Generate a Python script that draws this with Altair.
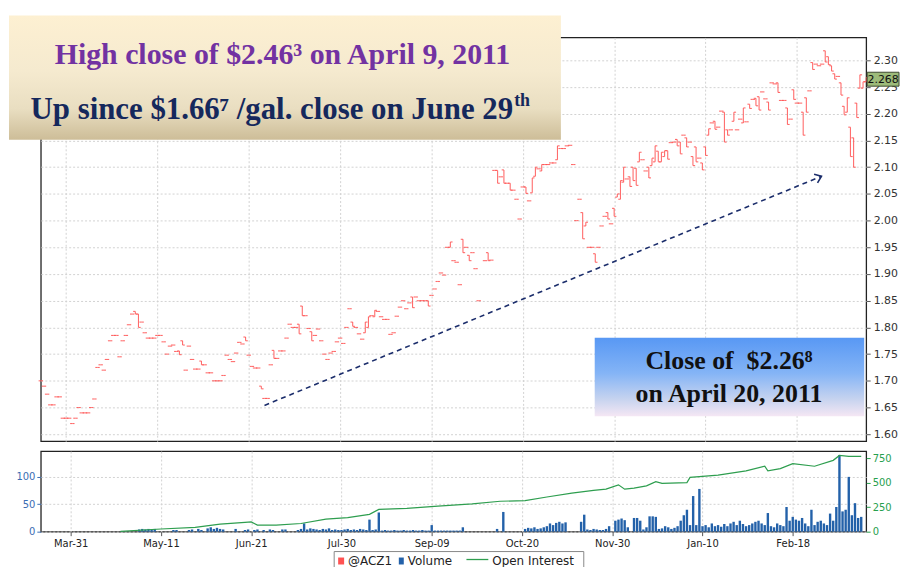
import altair as alt
import pandas as pd

# ---------------- data ----------------
tick_pos = [0, 29, 58, 87, 116, 145, 174, 203, 232]
tick_labels = ["Mar-31", "May-11", "Jun-21", "Jul-30", "Sep-09", "Oct-20", "Nov-30", "Jan-10", "Feb-18"]
price_ticks = [1.60, 1.65, 1.70, 1.75, 1.80, 1.85, 1.90, 1.95, 2.00, 2.05, 2.10, 2.15, 2.20, 2.25, 2.30]
vol_ticks = [0, 50, 100]
oi_ticks = [0, 250, 500, 750]

first_day = -8
price_close = [
    1.70, 1.69, 1.675, 1.655, 1.655, 1.67, 1.67, 1.63, 1.63, 1.63,        # -8
    1.62, 1.63, 1.65, 1.64, 1.64, 1.64, 1.65, 1.666, 1.725, 1.73,         # 2
    1.72, 1.74, 1.775, 1.785, 1.785, 1.745, 1.775, 1.785, 1.805, 1.825,   # 12
    1.825, 1.80, 1.81, 1.79, 1.78, 1.78, 1.78, 1.785, 1.785, 1.773,       # 22
    1.75, 1.765, 1.767, 1.755, 1.749, 1.767, 1.72, 1.765, 1.74, 1.722,    # 32
    1.722, 1.73, 1.73, 1.715, 1.715, 1.70, 1.70, 1.70, 1.71, 1.748,       # 42
    1.74, 1.736, 1.752, 1.772, 1.769, 1.775, 1.748, 1.727, 1.724, 1.724,  # 52
    1.685, 1.667, 1.667, 1.73, 1.742, 1.742, 1.756, 1.756, 1.78, 1.806,   # 62
    1.80, 1.80, 1.788, 1.822, 1.822, 1.798, 1.775, 1.785, 1.797, 1.775,   # 72
    1.75, 1.74, 1.752, 1.755, 1.773, 1.78, 1.77, 1.80, 1.835, 1.802,      # 82
    1.80, 1.788, 1.778, 1.81, 1.82, 1.822, 1.832, 1.83, 1.82, 1.815,      # 92
    1.815, 1.787, 1.79, 1.821, 1.838, 1.85, 1.835, 1.846, 1.837, 1.857,   # 102
    1.85, 1.85, 1.85, 1.84, 1.86, 1.872, 1.886, 1.902, 1.898, 1.95,       # 112
    1.96, 1.925, 1.922, 1.88, 1.94, 1.95, 1.925, 1.94, 1.91, 1.85,        # 122
    None, 1.925, 1.925, 1.926, 2.094, 2.07, 2.082, 2.07, 2.07, 2.057,     # 132
    2.057, 2.04, 2.003, 2.063, 2.051, 2.037, 2.08, 2.10, 2.097, 2.105,    # 142
    2.105, 2.105, 2.108, 2.108, 2.14, 2.135, 2.135, 2.14, 2.141, 2.105,   # 152
    2.00, 2.04, 1.966, 1.997, 1.95, 1.95, 1.922, 1.95, 1.99, 2.008,       # 162
    2.003, 1.994, 2.008, 2.05, 2.075, 2.10, 2.078, 2.064, 2.075, 2.066,   # 172
    2.128, 2.114, 2.093, 2.08, 2.117, 2.14, 2.11, 2.128, 2.131, 2.115,    # 182
    2.146, 2.147, 2.14, 2.125, 2.16, 2.138, 2.147, 2.103, 2.11, 2.117,    # 192
    2.095, 2.122, 2.172, 2.183, 2.171, 2.175, 2.205, 2.147, 2.16, 2.17,   # 202
    2.203, 2.17, 2.19, 2.211, 2.185, 2.21, 2.227, 2.215, 2.207, 2.241,    # 212
    2.228, 2.207, 2.258, 2.256, 2.24, 2.225, 2.225, 2.18, 2.19, 2.227,    # 222
    2.22, 2.22, 2.16, 2.203, 2.243, 2.283, 2.293, 2.29, 2.293, 2.297,     # 232
    2.292, 2.28, 2.265, 2.27, 2.235, 2.198, 2.23, 2.12, 2.10, 2.193,      # 242
    2.273, 2.26, 2.268,                                                   # 252
]
price_open = {
    22: 1.83, 23: 1.825, 36: 1.756, 37: 1.775, 43: 1.737, 57: 1.782, 62: 1.69,
    66: 1.757, 74: 1.806, 75: 1.84, 78: 1.792, 91: 1.81, 95: 1.79, 96: 1.80,
    98: 1.82, 110: 1.857, 115: 1.85, 122: 1.95, 126: 1.965, 128: 1.935,
    134: 1.94, 137: 2.094, 139: 2.095, 141: 2.07, 146: 2.063, 148: 2.052,
    149: 2.083, 151: 2.093, 156: 2.114, 164: 2.015, 165: 1.99, 168: 1.938,
    172: 2.015, 174: 2.023, 175: 2.044, 176: 2.04, 177: 2.072, 179: 2.082,
    180: 2.10, 181: 2.098, 182: 2.11, 185: 2.10, 186: 2.103, 187: 2.11,
    188: 2.13, 189: 2.11, 190: 2.12, 191: 2.131, 194: 2.152, 195: 2.147,
    197: 2.155, 199: 2.12, 200: 2.138, 202: 2.108, 203: 2.138, 204: 2.16,
    206: 2.186, 209: 2.203, 210: 2.17, 212: 2.186, 215: 2.183, 217: 2.218,
    219: 2.229, 220: 2.232, 223: 2.222, 226: 2.258, 229: 2.211, 231: 2.245,
    234: 2.203, 235: 2.23, 237: 2.296, 241: 2.318, 242: 2.307, 243: 2.29,
    244: 2.275, 246: 2.258, 247: 2.214, 248: 2.203, 249: 2.175, 250: 2.155,
    251: 2.22, 252: 2.248, 253: 2.248, 254: 2.26,
}

vol_first_day = 22
volume = [
    4, 5, 4, 5, 4, 5, 0, 0, 0, 0,
    0, 3, 3, 0, 0, 0, 3, 4, 0, 5,
    3, 0, 6, 8, 5, 7, 5, 4, 0, 0,
    0, 5, 0, 0, 3, 4, 0, 3, 4, 0,
    3, 0, 4, 3, 0, 0, 4, 4, 0, 0,
    0, 3, 5, 15, 4, 6, 5, 4, 3, 5,
    4, 6, 3, 4, 3, 3, 4, 5, 3, 4,
    3, 5, 4, 3, 22, 3, 4, 35, 2, 3,
    2, 2, 3, 2, 2, 3, 2, 2, 3, 2,
    2, 3, 2, 2, 12, 2, 2, 2, 2, 2,
    2, 2, 2, 2, 8, 0, 0, 0, 0, 0,
    0, 0, 0, 0, 0, 5, 0, 36, 0, 0,
    0, 0, 0, 0, 5, 7, 6, 8, 5, 6,
    8, 10, 15, 12, 16, 18, 15, 17, 0, 0,
    0, 0, 18, 31, 4, 3, 5, 4, 3, 3,
    5, 10, 0, 20, 22, 24, 21, 8, 0, 25,
    25, 20, 4, 8, 28, 28, 27, 5, 6, 10,
    8, 5, 7, 10, 20, 30, 40, 12, 65, 12,
    78, 10, 12, 8, 15, 10, 12, 9, 14, 10,
    15, 18, 12, 20, 14, 10, 12, 15, 18, 20,
    15, 12, 34, 10, 8, 15, 12, 10, 45, 20,
    27, 22, 20, 25, 15, 10, 40, 12, 18, 20,
    15, 12, 33, 20, 45, 140, 37, 40, 100, 30,
    52, 25, 27,
]

oi_days = [16, 29, 40, 48, 56, 58, 60, 66, 74, 82, 89, 96, 99, 108, 118, 129, 138,
           146, 153, 161, 168, 172, 176, 178, 181, 185, 188, 190, 198, 199, 208,
           217, 223, 224, 228, 232, 239, 245, 247, 250, 254]
oi_vals = [3, 27, 43, 77, 95, 100, 67, 67, 83, 127, 143, 177, 227, 237, 260, 283, 310,
           317, 353, 393, 420, 433, 477, 433, 443, 467, 510, 493, 500, 553, 577,
           620, 667, 620, 643, 693, 667, 727, 777, 767, 767]

arrow_start = [63, 1.654]
arrow_end = [239.8, 2.083]
last_price_text = "2.268"

# ---------------- frames ----------------
rows = []
for k, c in enumerate(price_close):
    if c is None:
        continue
    d = first_day + k
    o = price_open.get(d, c)
    rows.append(dict(d=d, o=o, c=c, lo=min(o, c), hi=max(o, c), xo=d - 0.7, xc=d + 0.7))
price_df = pd.DataFrame(rows)

vol_df = pd.DataFrame({"d": [vol_first_day + k for k in range(len(volume))], "v": volume})
vol_df = vol_df[vol_df["v"] > 0]
oi_df = pd.DataFrame({"d": oi_days, "oi": oi_vals})
arrow_df = pd.DataFrame({"ax1": [arrow_start[0]], "ay1": [arrow_start[1]],
                         "ax2": [arrow_end[0]], "ay2": [arrow_end[1]]})
one = pd.DataFrame({"a": [0]})

W, H_TOP, H_BOT = 830, 406, 81
RED = "#ff5252"
NAVY = "#1b2d6b"

xscale = alt.Scale(domain=[-8, 254], nice=False, zero=False)
yscale = alt.Scale(domain=[1.587, 2.343], nice=False, zero=False)

label_expr = "[" + ",".join("'%s'" % s for s in tick_labels) + "][indexof([" + \
    ",".join(str(p) for p in tick_pos) + "], datum.value)]"

top_x_axis = alt.Axis(values=tick_pos, labels=False, ticks=False, domain=False, grid=True, title=None)
price_axis = alt.Axis(orient="right", values=price_ticks, format=".2f", grid=True, tickSize=4,
                      labelPadding=3, title=None, domain=False, labelFontSize=11, labelColor="#333")


def tx(field):
    return alt.X(field, scale=xscale, axis=top_x_axis, title=None)


def ty(field):
    return alt.Y(field, scale=yscale, axis=price_axis, title=None)


# ---------------- top (price) ----------------
hl = alt.Chart(price_df).mark_rule(color=RED, strokeWidth=1.1, opacity=0.85).encode(
    x=tx("d:Q"), y=ty("lo:Q"), y2="hi:Q")
op = alt.Chart(price_df).mark_rule(color=RED, strokeWidth=1.1, opacity=0.85).encode(
    x=tx("xo:Q"), x2="d:Q", y=ty("o:Q"))
cl = alt.Chart(price_df).mark_rule(color=RED, strokeWidth=1.1, opacity=0.85).encode(
    x=tx("d:Q"), x2="xc:Q", y=ty("c:Q"))
arrow = alt.Chart(arrow_df).mark_rule(color=NAVY, strokeWidth=1.6, strokeDash=[5, 4]).encode(
    x=tx("ax1:Q"), x2="ax2:Q", y=ty("ay1:Q"), y2="ay2:Q")
arrow_head = alt.Chart(arrow_df).mark_point(
    shape="M-1,-0.75L0,0L-1,0.75", filled=False, size=150, angle=338,
    color=NAVY, strokeWidth=1.6, opacity=1,
).encode(x=tx("ax2:Q"), y=ty("ay2:Q"))

tan_grad = alt.LinearGradient(
    gradient="linear", x1=0, x2=0, y1=0, y2=1,
    stops=[alt.GradientStop(color="#fdf0d2", offset=0),
           alt.GradientStop(color="#f5eacf", offset=0.45),
           alt.GradientStop(color="#e9dec1", offset=0.75),
           alt.GradientStop(color="#cdbd98", offset=1)],
)
blue_grad = alt.LinearGradient(
    gradient="linear", x1=0, x2=0, y1=0, y2=1,
    stops=[alt.GradientStop(color="#5898f4", offset=0),
           alt.GradientStop(color="#84b4f6", offset=0.45),
           alt.GradientStop(color="#c6d3ef", offset=0.78),
           alt.GradientStop(color="#f5e7f4", offset=1)],
)

box1 = alt.Chart(one).mark_rect(fill=tan_grad).encode(
    x=alt.value(-32), x2=alt.value(523), y=alt.value(-22), y2=alt.value(103))
t1 = alt.Chart(one).mark_text(
    text="High close of $2.46\u00b3 on April 9, 2011", font="Liberation Serif", fontWeight="bold",
    fontSize=30, color="#7232a2", align="center", baseline="alphabetic",
).encode(x=alt.value(243), y=alt.value(27))
t2 = alt.Chart(one).mark_text(
    text="Up since $1.66\u2077 /gal. close on June 29", font="Liberation Serif", fontWeight="bold",
    fontSize=31, color="#15285c", align="right", baseline="alphabetic",
).encode(x=alt.value(475), y=alt.value(82))
t2s = alt.Chart(one).mark_text(
    text="th", font="Liberation Serif", fontWeight="bold",
    fontSize=18, color="#15285c", align="left", baseline="alphabetic",
).encode(x=alt.value(476), y=alt.value(69))

box2 = alt.Chart(one).mark_rect(fill=blue_grad).encode(
    x=alt.value(557), x2=alt.value(828), y=alt.value(302), y2=alt.value(381))
t3 = alt.Chart(one).mark_text(
    text="Close of\u00a0 $2.26\u2078", font="Liberation Serif", fontWeight="bold",
    fontSize=26, color="#111111", align="center", baseline="alphabetic",
).encode(x=alt.value(692), y=alt.value(333))
t4 = alt.Chart(one).mark_text(
    text="on April 20, 2011", font="Liberation Serif", fontWeight="bold",
    fontSize=26, color="#111111", align="center", baseline="alphabetic",
).encode(x=alt.value(692), y=alt.value(367))

lbl_box = alt.Chart(one).mark_rect(fill="#9dbb7a", stroke="#3d4a30", strokeWidth=1).encode(
    x=alt.value(831), x2=alt.value(863), y=alt.value(35), y2=alt.value(49))
lbl_txt = alt.Chart(one).mark_text(
    text=last_price_text, font="DejaVu Sans", fontSize=11, color="#111", align="center", baseline="middle",
).encode(x=alt.value(847), y=alt.value(42.5))

top = alt.layer(hl, op, cl, arrow, arrow_head, box1, t1, t2, t2s, box2, t3, t4, lbl_box, lbl_txt).properties(
    width=W, height=H_TOP)

# ---------------- bottom (volume / OI) ----------------
bot_x_axis = alt.Axis(values=tick_pos, labelExpr=label_expr, grid=True, tickSize=4, labelPadding=3,
                      domain=False, title=None, labelFontSize=10, labelColor="#222")
vol_axis = alt.Axis(orient="left", values=vol_ticks, grid=True, tickSize=4, title=None, domain=False,
                    labelColor="#3a6db3", tickColor="#3a6db3", labelFontSize=10)
oi_axis = alt.Axis(orient="right", values=oi_ticks, grid=False, tickSize=4, title=None, domain=False,
                   labelColor="#27a04e", tickColor="#27a04e", labelFontSize=10)

vol = alt.Chart(vol_df).mark_bar(size=2.4, color="#2361a9").encode(
    x=alt.X("d:Q", scale=xscale, axis=bot_x_axis, title=None),
    y=alt.Y("v:Q", scale=alt.Scale(domain=[0, 147], nice=False), axis=vol_axis),
)
oi = alt.Chart(oi_df).mark_line(color="#2e9e4f", strokeWidth=1.2).encode(
    x=alt.X("d:Q", scale=xscale, axis=bot_x_axis, title=None),
    y=alt.Y("oi:Q", scale=alt.Scale(domain=[0, 821], nice=False), axis=oi_axis),
)

leg_box = alt.Chart(one).mark_rect(fill="white", stroke="#888", strokeWidth=1).encode(
    x=alt.value(295), x2=alt.value(546), y=alt.value(101), y2=alt.value(125))
leg_red = alt.Chart(one).mark_rect(fill="#ff5252").encode(
    x=alt.value(299), x2=alt.value(305), y=alt.value(107), y2=alt.value(114))
leg_blue = alt.Chart(one).mark_rect(fill="#2361a9").encode(
    x=alt.value(360), x2=alt.value(365), y=alt.value(107), y2=alt.value(114))
leg_green = alt.Chart(one).mark_rule(color="#2e9e4f", strokeWidth=1.3).encode(
    x=alt.value(428), x2=alt.value(450), y=alt.value(109))
leg_t1 = alt.Chart(one).mark_text(text="@ACZ1", font="DejaVu Sans", fontSize=12, color="#222",
                                  align="left", baseline="alphabetic").encode(x=alt.value(309), y=alt.value(115))
leg_t2 = alt.Chart(one).mark_text(text="Volume", font="DejaVu Sans", fontSize=12, color="#222",
                                  align="left", baseline="alphabetic").encode(x=alt.value(369), y=alt.value(115))
leg_t3 = alt.Chart(one).mark_text(text="Open Interest", font="DejaVu Sans", fontSize=12, color="#222",
                                  align="left", baseline="alphabetic").encode(x=alt.value(454), y=alt.value(115))

bottom = alt.layer(vol, oi, leg_box, leg_red, leg_blue, leg_green, leg_t1, leg_t2, leg_t3).resolve_scale(
    y="independent").properties(width=W, height=H_BOT)

chart = alt.vconcat(top, bottom, spacing=10, bounds="flush").properties(
    padding={"left": 0, "top": 5, "right": 0, "bottom": 0},
    background="white",
).configure_view(
    stroke="#222", strokeWidth=1.3
).configure_axis(
    gridColor="#d2d2d2", gridDash=[2, 2], gridWidth=1,
    labelFont="DejaVu Sans", tickColor="#555",
)

chart.save("out.html", embed_options={"renderer": "svg", "actions": False})
